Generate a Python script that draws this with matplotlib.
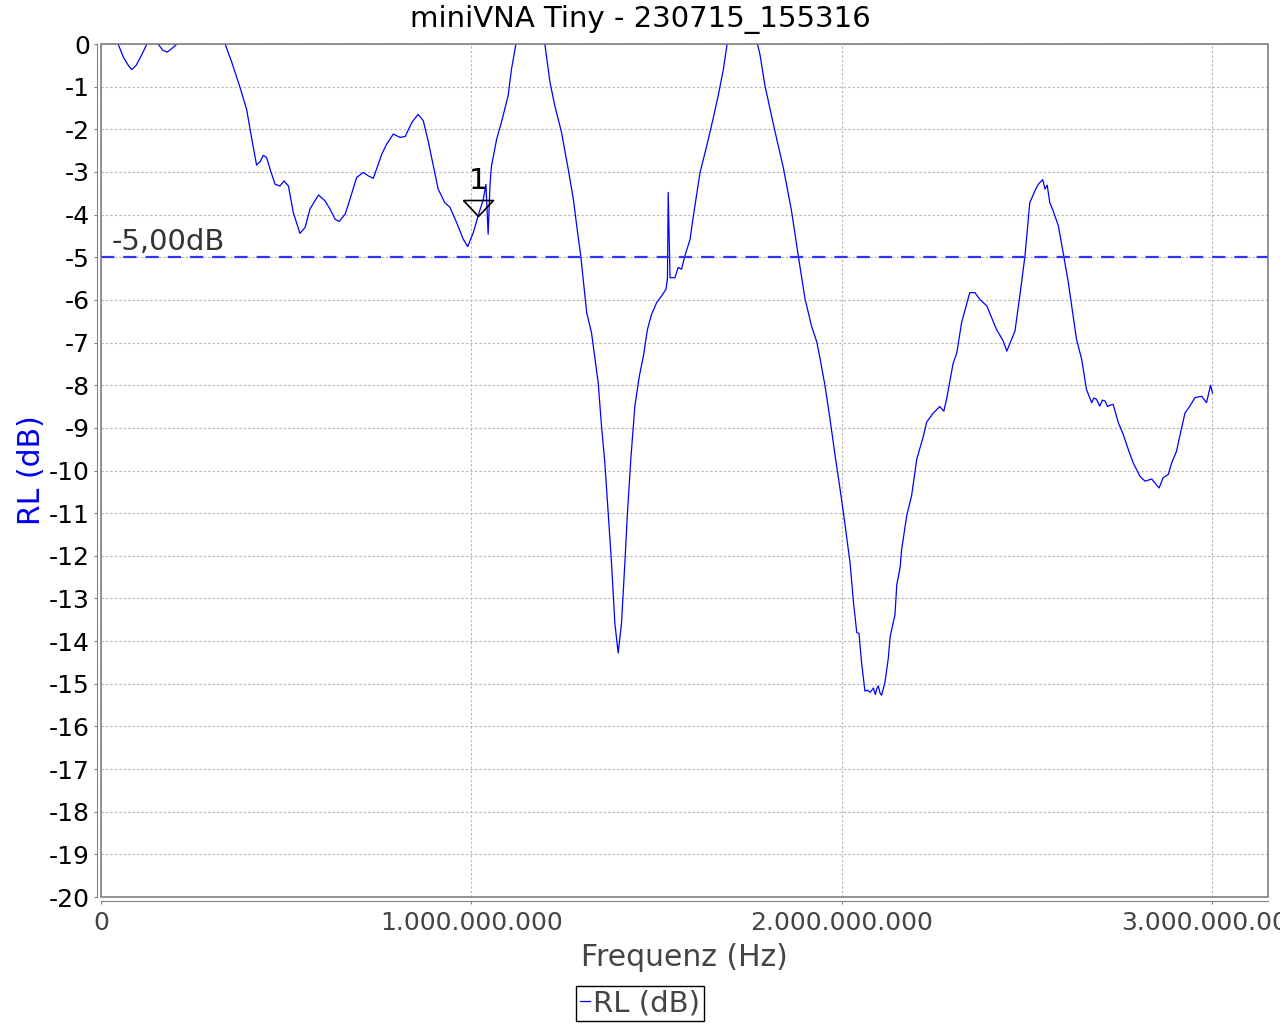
import matplotlib
matplotlib.use("Agg")
import matplotlib.pyplot as plt  # noqa: E402
from matplotlib.patches import Rectangle  # noqa: E402
from matplotlib.ticker import FuncFormatter, MultipleLocator  # noqa: E402

plt.rcParams["axes.unicode_minus"] = False

# sweep (GHz, dB); values above 0 dB run off the top
freq_ghz = [
    0.001, 0.030, 0.046, 0.060, 0.075, 0.083, 0.095, 0.110, 0.124, 0.140,
    0.154, 0.167, 0.179, 0.192, 0.205, 0.230, 0.270, 0.310, 0.335, 0.353,
    0.375, 0.393, 0.407, 0.420, 0.430, 0.438, 0.447, 0.458, 0.470, 0.483,
    0.494, 0.506, 0.519, 0.537, 0.551, 0.564, 0.587, 0.605, 0.618, 0.632,
    0.643, 0.659, 0.672, 0.690, 0.708, 0.721, 0.735, 0.744, 0.758, 0.771,
    0.789, 0.807, 0.821, 0.839, 0.856, 0.870, 0.884, 0.897, 0.910, 0.928,
    0.942, 0.960, 0.978, 0.990, 1.005, 1.018, 1.032, 1.039, 1.042, 1.045,
    1.050, 1.054, 1.068, 1.081, 1.099, 1.108, 1.120, 1.140, 1.160, 1.180,
    1.198, 1.212, 1.225, 1.243, 1.261, 1.275, 1.284, 1.295, 1.311, 1.324,
    1.342, 1.351, 1.360, 1.369, 1.378, 1.387, 1.396, 1.405, 1.414, 1.421,
    1.430, 1.441, 1.453, 1.464, 1.475, 1.486, 1.500, 1.513, 1.525, 1.529,
    1.531, 1.536, 1.549, 1.558, 1.567, 1.576, 1.590, 1.599, 1.617, 1.635,
    1.653, 1.666, 1.680, 1.690, 1.710, 1.730, 1.755, 1.772, 1.779, 1.792,
    1.806, 1.819, 1.842, 1.864, 1.882, 1.900, 1.918, 1.932, 1.941, 1.954,
    1.968, 1.981, 1.995, 2.008, 2.022, 2.031, 2.040, 2.046, 2.053, 2.062,
    2.069, 2.076, 2.085, 2.090, 2.094, 2.098, 2.103, 2.107, 2.116, 2.125,
    2.130, 2.143, 2.148, 2.157, 2.161, 2.175, 2.188, 2.202, 2.219, 2.229,
    2.246, 2.264, 2.275, 2.283, 2.300, 2.310, 2.323, 2.345, 2.359, 2.372,
    2.391, 2.417, 2.435, 2.445, 2.458, 2.467, 2.480, 2.494, 2.507, 2.521,
    2.530, 2.542, 2.548, 2.554, 2.561, 2.570, 2.584, 2.597, 2.611, 2.620,
    2.633, 2.647, 2.660, 2.674, 2.680, 2.687, 2.696, 2.703, 2.710, 2.717,
    2.723, 2.732, 2.746, 2.759, 2.773, 2.786, 2.804, 2.818, 2.836, 2.856,
    2.867, 2.881, 2.890, 2.903, 2.912, 2.926, 2.939, 2.953, 2.971, 2.984,
    2.995, 3.000,
]
rl_db = [
    0.60, 0.20, 0.00, -0.30, -0.52, -0.60, -0.50, -0.25, 0.00, 0.20,
    0.00, -0.15, -0.19, -0.10, 0.00, 0.30, 0.50, 0.30, 0.00, -0.43,
    -1.01, -1.53, -2.23, -2.84, -2.75, -2.61, -2.66, -2.98, -3.29, -3.33,
    -3.21, -3.33, -3.95, -4.44, -4.30, -3.87, -3.54, -3.68, -3.87, -4.11,
    -4.16, -3.99, -3.64, -3.13, -3.01, -3.09, -3.15, -2.93, -2.58, -2.35,
    -2.11, -2.19, -2.17, -1.84, -1.65, -1.80, -2.31, -2.86, -3.40, -3.72,
    -3.83, -4.19, -4.58, -4.75, -4.42, -4.03, -3.64, -3.29, -3.90, -4.46,
    -3.30, -2.86, -2.23, -1.83, -1.21, -0.59, 0.00, 0.50, 0.80, 0.50,
    0.00, -0.90, -1.45, -2.07, -2.93, -3.64, -4.26, -4.97, -6.30, -6.77,
    -7.94, -8.96, -9.82, -11.00, -12.17, -13.58, -14.28, -13.58, -12.17, -11.00,
    -9.74, -8.49, -7.79, -7.32, -6.69, -6.34, -6.06, -5.91, -5.75, -5.50,
    -3.48, -5.48, -5.48, -5.24, -5.28, -4.97, -4.58, -4.03, -3.01, -2.39,
    -1.72, -1.21, -0.59, 0.00, 0.50, 0.70, 0.30, 0.00, -0.26, -0.97,
    -1.53, -2.04, -2.91, -3.92, -4.96, -5.96, -6.62, -6.98, -7.38, -8.00,
    -8.81, -9.62, -10.44, -11.25, -12.17, -13.08, -13.80, -13.82, -14.51, -15.17,
    -15.15, -15.20, -15.10, -15.25, -15.12, -15.05, -15.22, -15.27, -14.97, -14.41,
    -13.90, -13.39, -12.68, -12.27, -11.86, -11.05, -10.59, -9.73, -9.22, -8.86,
    -8.66, -8.50, -8.61, -8.30, -7.49, -7.24, -6.53, -5.83, -5.83, -5.99,
    -6.14, -6.69, -6.96, -7.20, -6.92, -6.73, -5.91, -4.97, -3.72, -3.44,
    -3.29, -3.18, -3.40, -3.31, -3.72, -3.91, -4.26, -4.89, -5.59, -6.14,
    -6.92, -7.39, -8.10, -8.41, -8.30, -8.33, -8.49, -8.35, -8.37, -8.50,
    -8.47, -8.45, -8.88, -9.15, -9.51, -9.82, -10.13, -10.25, -10.20, -10.41,
    -10.17, -10.09, -9.82, -9.55, -9.19, -8.65, -8.49, -8.29, -8.26, -8.41,
    -8.00, -8.18,
]

limit_db = -5.0
limit_label = "-5,00dB"
marker_ghz = 1.018
marker_db = -4.03
marker_label = "1"

title = "miniVNA Tiny - 230715_155316"
x_label = "Frequenz (Hz)"
y_label = "RL (dB)"

GRID = "#b4b4b4"
AXIS = "#808080"
TEXT = "#444444"


def _de_thousands(v, _pos):
    return f"{int(round(v)):,}".replace(",", ".")


fig = plt.figure(figsize=(12.8, 10.24), dpi=100)
ax = fig.add_axes([101 / 1280, 1 - 897 / 1024, 1167 / 1280, 853 / 1024])

x_hz = [f * 1e9 for f in freq_ghz]
ax.plot(x_hz, rl_db, color="#0000ff", linewidth=0.9, label=y_label)
ax.axhline(limit_db, color="#3333ff", linewidth=1.6, dashes=(6, 4))
ax.text(0.03e9, limit_db + 0.35, limit_label, fontsize=21, color="#333333",
        ha="left", va="center")

# marker 1: outline triangle with its tip on the trace
tri = [(-15, 16), (15, 16), (0, 0), (-15, 16)]
ax.plot([marker_ghz * 1e9], [marker_db], marker=tri, markersize=23,
        markerfacecolor="none", markeredgecolor="black", markeredgewidth=1.2,
        linestyle="none")
ax.annotate(marker_label, (marker_ghz * 1e9, marker_db), xytext=(0, 25),
            textcoords="offset points", ha="center", va="center", fontsize=21)

ax.set_xlim(0, 3.15e9)
ax.set_ylim(-20, 0)
ax.xaxis.set_major_locator(MultipleLocator(1e9))
ax.xaxis.set_major_formatter(FuncFormatter(_de_thousands))
ax.yaxis.set_major_locator(MultipleLocator(1))
ax.grid(True, color=GRID, linestyle=(0, (2, 2)), linewidth=0.8)

for side in ("top", "right"):
    ax.spines[side].set_visible(False)
for side in ("left", "bottom"):
    ax.spines[side].set_position(("outward", 3))
    ax.spines[side].set_color(AXIS)
ax.add_patch(Rectangle((0, 0), 1, 1, transform=ax.transAxes, fill=False,
                       edgecolor=AXIS, linewidth=1.2, clip_on=False, zorder=5))

ax.tick_params(axis="both", direction="out", length=2, color=AXIS, labelsize=18)
ax.tick_params(axis="x", labelcolor=TEXT, pad=5)
ax.tick_params(axis="y", labelcolor="black", pad=3)

fig.text(0.5, 1 - 19 / 1024, title, fontsize=21, color="black",
         ha="center", va="center")
ax.set_xlabel(x_label, fontsize=21.5, color=TEXT, labelpad=6)
ax.set_ylabel(y_label, fontsize=21.5, color="#0000ee", labelpad=2)

leg = fig.legend(loc="lower center", bbox_to_anchor=(0.5, 0.0), fontsize=21,
                 handlelength=0.35, handletextpad=0.1, borderpad=0.12,
                 borderaxespad=0.1, fancybox=False, framealpha=1)
leg.get_frame().set_edgecolor("black")
for t in leg.get_texts():
    t.set_color(TEXT)

fig.savefig("out.png", dpi=100)
